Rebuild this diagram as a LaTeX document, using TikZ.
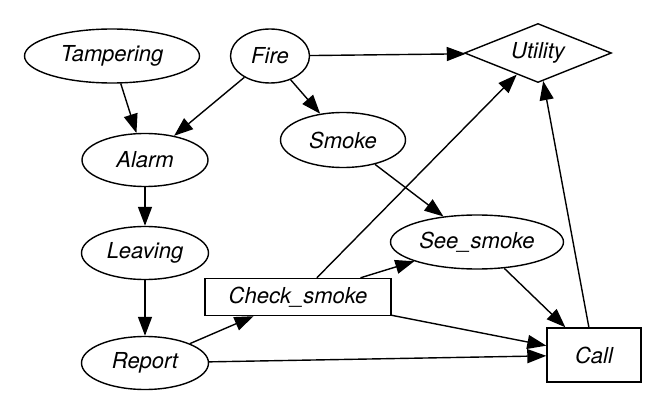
\documentclass[tikz,border=0pt]{standalone}
\usepackage{fontspec}
\setmainfont{TeX Gyre Heros}
\usetikzlibrary{shapes.geometric,arrows.meta}

\begin{document}
\begin{tikzpicture}[x=1pt,y=-1pt,
  mychance/.style={draw,ellipse,line width=1.4pt,inner sep=0pt,minimum height=54pt},
  mydecision/.style={draw,rectangle,line width=1.4pt,inner sep=0pt},
  myutility/.style={draw,diamond,line width=1.4pt,inner sep=0pt,aspect=2.5,minimum width=147pt,minimum height=59pt},
  myarrow/.style={-{Triangle[length=19pt,width=14pt]},line width=1.4pt},
  every node/.style={font=\fontsize{22}{26}\selectfont\itshape}]
\useasboundingbox (0,0) rectangle (664,414);

\node[mychance,minimum width=175pt] (tamp) at (112,56) {Tampering};
\node[mychance,minimum width=79pt] (fire) at (270,56) {Fire};
\node[mychance,minimum width=126pt,minimum height=53pt] (alarm) at (145,160) {Alarm};
\node[mychance,minimum width=125pt,minimum height=55pt] (smoke) at (343,140) {Smoke};
\node[mychance,minimum width=127pt,minimum height=53pt] (leave) at (145,253) {Leaving};
\node[mychance,minimum width=127pt,minimum height=53pt] (report) at (145,363) {Report};
\node[mychance,minimum width=173pt] (see) at (477,242) {See\_smoke};
\node[mydecision,minimum width=186pt,minimum height=37pt] (check) at (298,297) {Check\_smoke};
\node[mydecision,minimum width=94pt,minimum height=54pt] (call) at (594,355) {Call};
\node[myutility] (util) at (538,53) {Utility};

\draw[myarrow] (tamp) -- (alarm);
\draw[myarrow] (fire) -- (alarm);
\draw[myarrow] (fire) -- (smoke);
\draw[myarrow] (fire) -- (util);
\draw[myarrow] (alarm) -- (leave);
\draw[myarrow] (leave) -- (report);
\draw[myarrow] (report) -- (check);
\draw[myarrow] (report) -- (call);
\draw[myarrow] (smoke) -- (see);
\draw[myarrow] (check) -- (see);
\draw[myarrow] (check) -- (util);
\draw[myarrow] (check) -- (call);
\draw[myarrow] (see) -- (call);
\draw[myarrow] (call) -- (util);

\end{tikzpicture}
\end{document}
